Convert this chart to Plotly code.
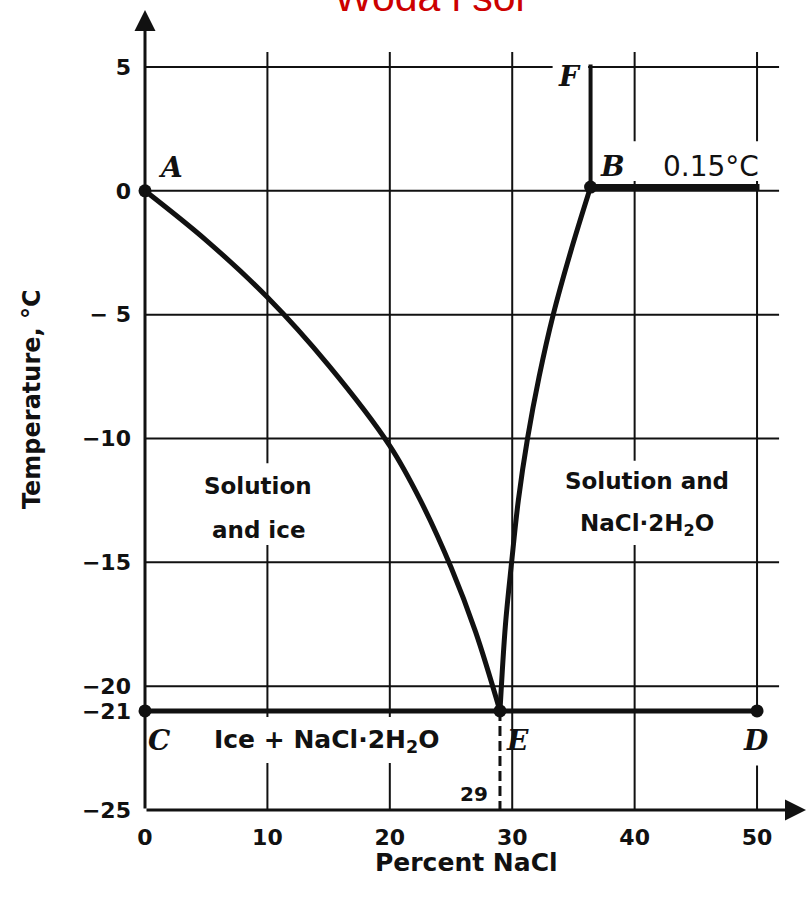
import plotly.graph_objects as go

# ---- data ----
pct_ae = [0, 5, 10, 15, 20, 22.5, 25, 27, 29]
temp_ae = [0, -2.0, -4.3, -7.05, -10.3, -12.5, -15.2, -17.8, -21]

pct_eb = [29, 29.45, 29.95, 30.5, 31.25, 32.2, 33.35, 34.75, 36.4]
temp_eb = [-21, -17.5, -15, -12.5, -10, -7.5, -5, -2.5, 0.15]

pct_bf = [36.4, 36.4]
temp_bf = [0.15, 5.1]

pct_bd = [36.4, 50.2]
temp_bd = [0.15, 0.15]

pct_cd = [0, 29, 50]
temp_cd = [-21, -21, -21]

point_pct = [0, 36.4, 0, 29, 50]
point_temp = [0, 0.15, -21, -21, -21]

eutectic_pct = 29
eutectic_temp = -21

x_tickvals = [0, 10, 20, 30, 40, 50]
x_ticktext = ["0", "10", "20", "30", "40", "50"]
y_tickvals = [5, 0, -5, -10, -15, -20, -21, -25]
y_ticktext = ["5", "0", "\u2212 5", "\u221210", "\u221215", "\u221220", "\u221221", "\u221225"]

grid_x = [10, 20, 30, 40, 50]
grid_y = [5, 0, -5, -10, -15, -20]

X_MIN, X_MAX = 0, 54
Y_MIN, Y_MAX = -25, 7.3

INK = "#111111"
SANS = "DejaVu Sans"
SERIF = "DejaVu Serif"

fig = go.Figure()

# ---- grid as shapes ----
shapes = []
for gx in grid_x:
    shapes.append(dict(type="line", xref="x", yref="y", x0=gx, x1=gx, y0=Y_MIN, y1=5.6,
                       line=dict(color=INK, width=2), layer="below"))
for gy in grid_y:
    shapes.append(dict(type="line", xref="x", yref="y", x0=0, x1=51.8, y0=gy, y1=gy,
                       line=dict(color=INK, width=2), layer="below"))
# white masks where the printed grid is interrupted by labels
masks = [
    (9, 11, -14.3, -11.0),
    (39, 41, -14.3, -10.9),
    (39.3, 51.2, 0.4, 2.0),
    (9, 21, -23.1, -21.25),
    (49, 51, -23.2, -21.25),
    (33.3, 36.2, 4.7, 5.3),
]
for x0, x1, y0, y1 in masks:
    shapes.append(dict(type="rect", xref="x", yref="y", x0=x0, x1=x1, y0=y0, y1=y1,
                       fillcolor="white", line=dict(width=0), layer="below"))

# ---- traces ----
curve = dict(color=INK, width=5, shape="spline", smoothing=1.0)
fig.add_trace(go.Scatter(x=pct_ae, y=temp_ae, mode="lines", line=curve, cliponaxis=False))
fig.add_trace(go.Scatter(x=pct_eb, y=temp_eb, mode="lines", line=curve, cliponaxis=False))
fig.add_trace(go.Scatter(x=pct_bf, y=temp_bf, mode="lines", line=dict(color=INK, width=4), cliponaxis=False))
fig.add_trace(go.Scatter(x=pct_bd, y=temp_bd, mode="lines", line=dict(color=INK, width=6), cliponaxis=False))
fig.add_trace(go.Scatter(x=pct_cd, y=temp_cd, mode="lines", line=dict(color=INK, width=5), cliponaxis=False))
fig.add_trace(go.Scatter(x=[eutectic_pct, eutectic_pct], y=[eutectic_temp, Y_MIN], mode="lines",
                         line=dict(color=INK, width=3, dash="10px,5px"), cliponaxis=False))
fig.add_trace(go.Scatter(x=point_pct, y=point_temp, mode="markers", marker=dict(color=INK, size=13), cliponaxis=False))

# ---- annotations ----
ann = []
# axes with arrows
ann.append(dict(x=0, y=Y_MAX, ax=0, ay=Y_MIN, xref="x", yref="y", axref="x", ayref="y", text="",
                showarrow=True, arrowhead=2, arrowsize=1.4, arrowwidth=3, arrowcolor=INK, standoff=0, startstandoff=0))
ann.append(dict(x=X_MAX, y=Y_MIN, ax=0, ay=Y_MIN, xref="x", yref="y", axref="x", ayref="y", text="",
                showarrow=True, arrowhead=2, arrowsize=1.4, arrowwidth=3, arrowcolor=INK, standoff=0, startstandoff=0))

def letter(t, x, y):
    ann.append(dict(x=x, y=y, xref="x", yref="y", text="<b><i>%s</i></b>" % t, showarrow=False,
                    font=dict(family=SERIF, size=28, color=INK)))

letter("A", 2.1, 0.95)
letter("B", 38.2, 1.0)
letter("F", 34.7, 4.6)
letter("C", 1.2, -22.2)
letter("E", 30.4, -22.2)
letter("D", 49.9, -22.2)

def label(t, x, y, size=23, bold=True):
    ann.append(dict(x=x, y=y, xref="x", yref="y", text=("<b>%s</b>" % t) if bold else t, showarrow=False,
                    font=dict(family=SANS, size=size, color=INK)))

label("0.15\u00b0C", 46.2, 1.0, size=28, bold=False)
label("Solution", 9.27, -11.9)
label("and ice", 9.27, -13.7)
label("Solution and", 41.0, -11.7)
label("NaCl\u00b72H<sub>2</sub>O", 41.0, -13.5)
label("Ice + NaCl\u00b72H<sub>2</sub>O", 14.8, -22.2, size=25)
label("29", 26.9, -24.35, size=20)

# titles
ann.append(dict(x=0.431, y=1, xref="paper", yref="paper", xanchor="center", yanchor="bottom", yshift=-12,
                text="Woda i s\u00f3l", showarrow=False,
                font=dict(family="Liberation Sans", size=41, color="#cc0000")))
ann.append(dict(x=0.486, y=-0.065, xref="paper", yref="paper", xanchor="center", yanchor="middle",
                text="<b>Percent NaCl</b>", showarrow=False,
                font=dict(family=SANS, size=25, color=INK)))
ann.append(dict(x=-0.172, y=0.514, xref="paper", yref="paper", xanchor="center", yanchor="middle",
                textangle=-90, text="<b>Temperature, \u00b0C</b>", showarrow=False,
                font=dict(family=SANS, size=24, color=INK)))

tickfont = dict(family=SANS, size=22, color=INK, weight="bold")

fig.update_layout(
    width=809, height=897,
    margin=dict(l=145, r=3, t=10, b=87),
    paper_bgcolor="white", plot_bgcolor="white",
    showlegend=False,
    shapes=shapes,
    annotations=ann,
    xaxis=dict(range=[X_MIN, X_MAX], showgrid=False, zeroline=False, showline=False,
               tickvals=x_tickvals, ticktext=x_ticktext, ticks="", tickfont=tickfont,
               ticklabelstandoff=12, fixedrange=True),
    yaxis=dict(range=[Y_MIN, Y_MAX], showgrid=False, zeroline=False, showline=False,
               tickvals=y_tickvals, ticktext=y_ticktext, ticks="", tickfont=tickfont,
               ticklabelstandoff=13, fixedrange=True),
)

fig.write_html("out.html")
